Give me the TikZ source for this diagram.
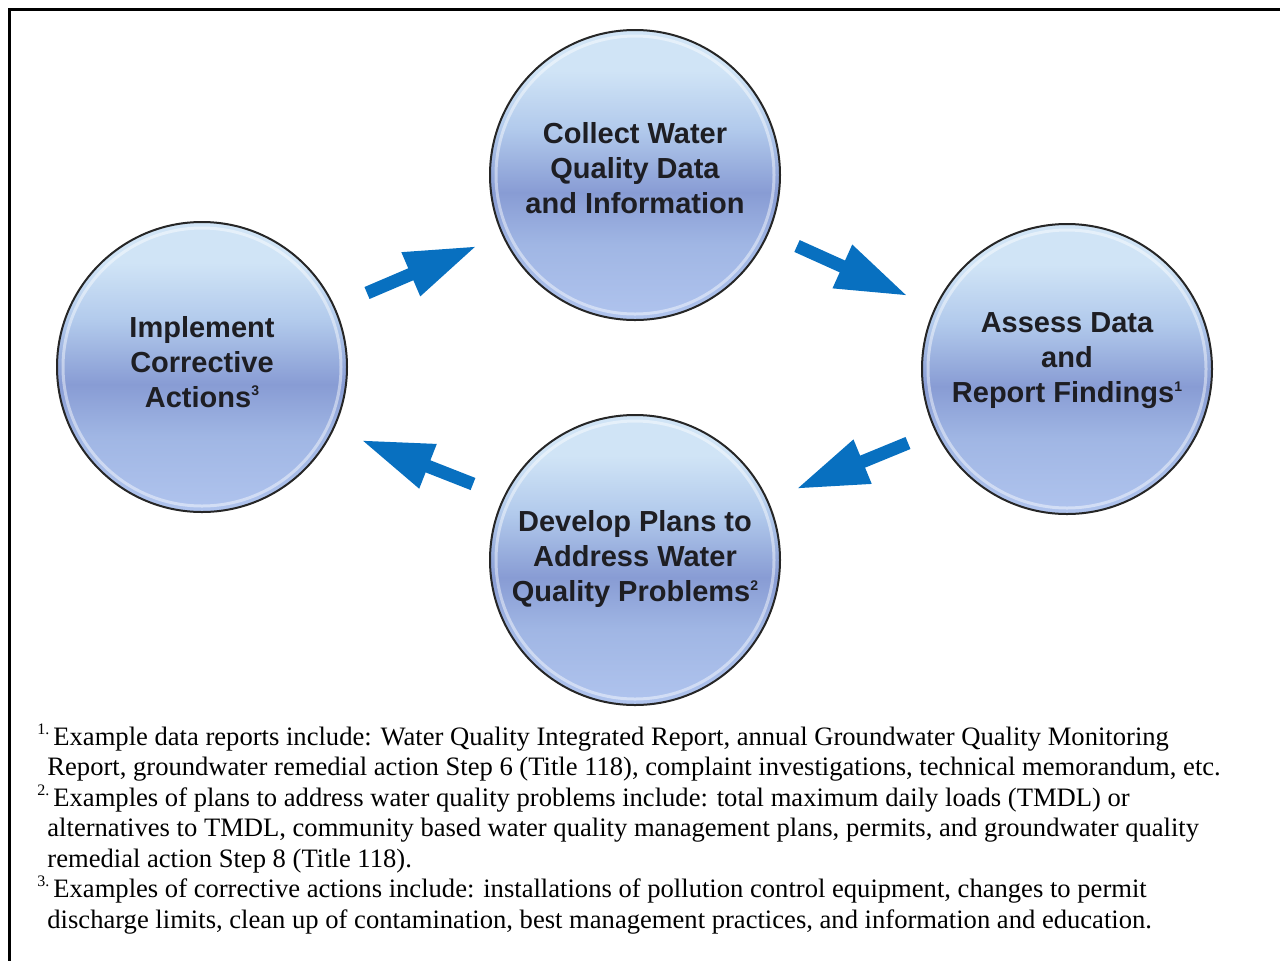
\documentclass[tikz,border=0pt]{standalone}
\usepackage{fontspec}
\setmainfont{Liberation Serif}
\newfontfamily\ballfont{Liberation Sans}
\usetikzlibrary{arrows.meta}
\definecolor{ctop}{RGB}{208,228,246}
\definecolor{cup}{RGB}{178,202,236}
\definecolor{cmid}{RGB}{136,156,212}
\definecolor{clow}{RGB}{160,182,228}
\definecolor{cbot}{RGB}{176,196,238}
\definecolor{ablue}{RGB}{8,112,192}
\definecolor{balltxt}{RGB}{30,30,35}
\pgfdeclareverticalshading{ballshade}{100bp}{color(0bp)=(cbot); color(25bp)=(cbot); color(38bp)=(clow); color(47bp)=(cmid); color(58bp)=(cup); color(68bp)=(ctop); color(100bp)=(ctop)}
\newcommand{\bsup}[1]{\raisebox{0.75ex}{\fontsize{7pt}{7pt}\selectfont #1}}
\newcommand{\nsup}[1]{\raisebox{0.9ex}{\fontsize{8pt}{8pt}\selectfont #1}\hspace{2pt}}
\begin{document}
\begin{tikzpicture}[x=0.5pt,y=-0.5pt,
  ball/.style={circle, minimum size=145pt, inner sep=0pt, shading=ballshade, draw=black!85, line width=1pt},
  balltext/.style={font=\ballfont\bfseries\fontsize{14.5pt}{17.5pt}\selectfont, text=balltxt, align=center, inner sep=0pt},
  arr/.style={draw=ablue, line width=6.5pt, -{Triangle[length=36pt,width=22pt]}},
  note/.style={anchor=base west, inner sep=0pt, font=\fontsize{13.3pt}{15pt}\selectfont}
]
\useasboundingbox (0,0) rectangle (1280,960);
\draw[line width=1.5pt] (9,980) -- (9,9) -- (1300,9);
% circles
\node[ball] (c1) at (635,175) {};
\node[ball] (c2) at (1067,369) {};
\node[ball] (c3) at (635,560) {};
\node[ball] (c4) at (202,367) {};
\foreach \n in {c1,c2,c3,c4}{
  \draw[white, opacity=0.45, line width=1.5pt] (\n.center) circle (69.5pt);
}
\node[balltext] (t1) at (635,168) {Collect Water\\Quality Data\\and Information};
\node[balltext] (t2) at (1067,361) {Assess Data\\and\\Report Findings\bsup{1}};
\node[balltext] (t3) at (635,559) {Develop Plans to\\Address Water\\Quality Problems\bsup{2}};
\node[balltext] (t4) at (202,362) {Implement\\Corrective\\Actions\bsup{3}};
% arrows
\coordinate (a1s) at (367,293); \coordinate (a1e) at (477,246);
\coordinate (a2s) at (797,246); \coordinate (a2e) at (908,296);
\coordinate (a3s) at (908,443); \coordinate (a3e) at (796,489);
\coordinate (a4s) at (473,484); \coordinate (a4e) at (361,440);
\draw[arr] (a1s) -- (a1e);
\draw[arr] (a2s) -- (a2e);
\draw[arr] (a3s) -- (a3e);
\draw[arr] (a4s) -- (a4e);
% notes
\node[note] (n1) at (37,745) {\nsup{1.}Example data reports include: Water Quality Integrated Report, annual Groundwater Quality Monitoring};
\node[note] (n2) at (47,775.5) {Report, groundwater remedial action Step 6 (Title 118), complaint investigations, technical memorandum, etc.};
\node[note] (n3) at (37,806) {\nsup{2.}Examples of plans to address water quality problems include: total maximum daily loads (TMDL) or};
\node[note] (n4) at (47,836.5) {alternatives to TMDL, community based water quality management plans, permits, and groundwater quality};
\node[note] (n5) at (47,867) {remedial action Step 8 (Title 118).};
\node[note] (n6) at (37,897.5) {\nsup{3.}Examples of corrective actions include: installations of pollution control equipment, changes to permit};
\node[note] (n7) at (47,928) {discharge limits, clean up of contamination, best management practices, and information and education.};
\end{tikzpicture}
\end{document}
